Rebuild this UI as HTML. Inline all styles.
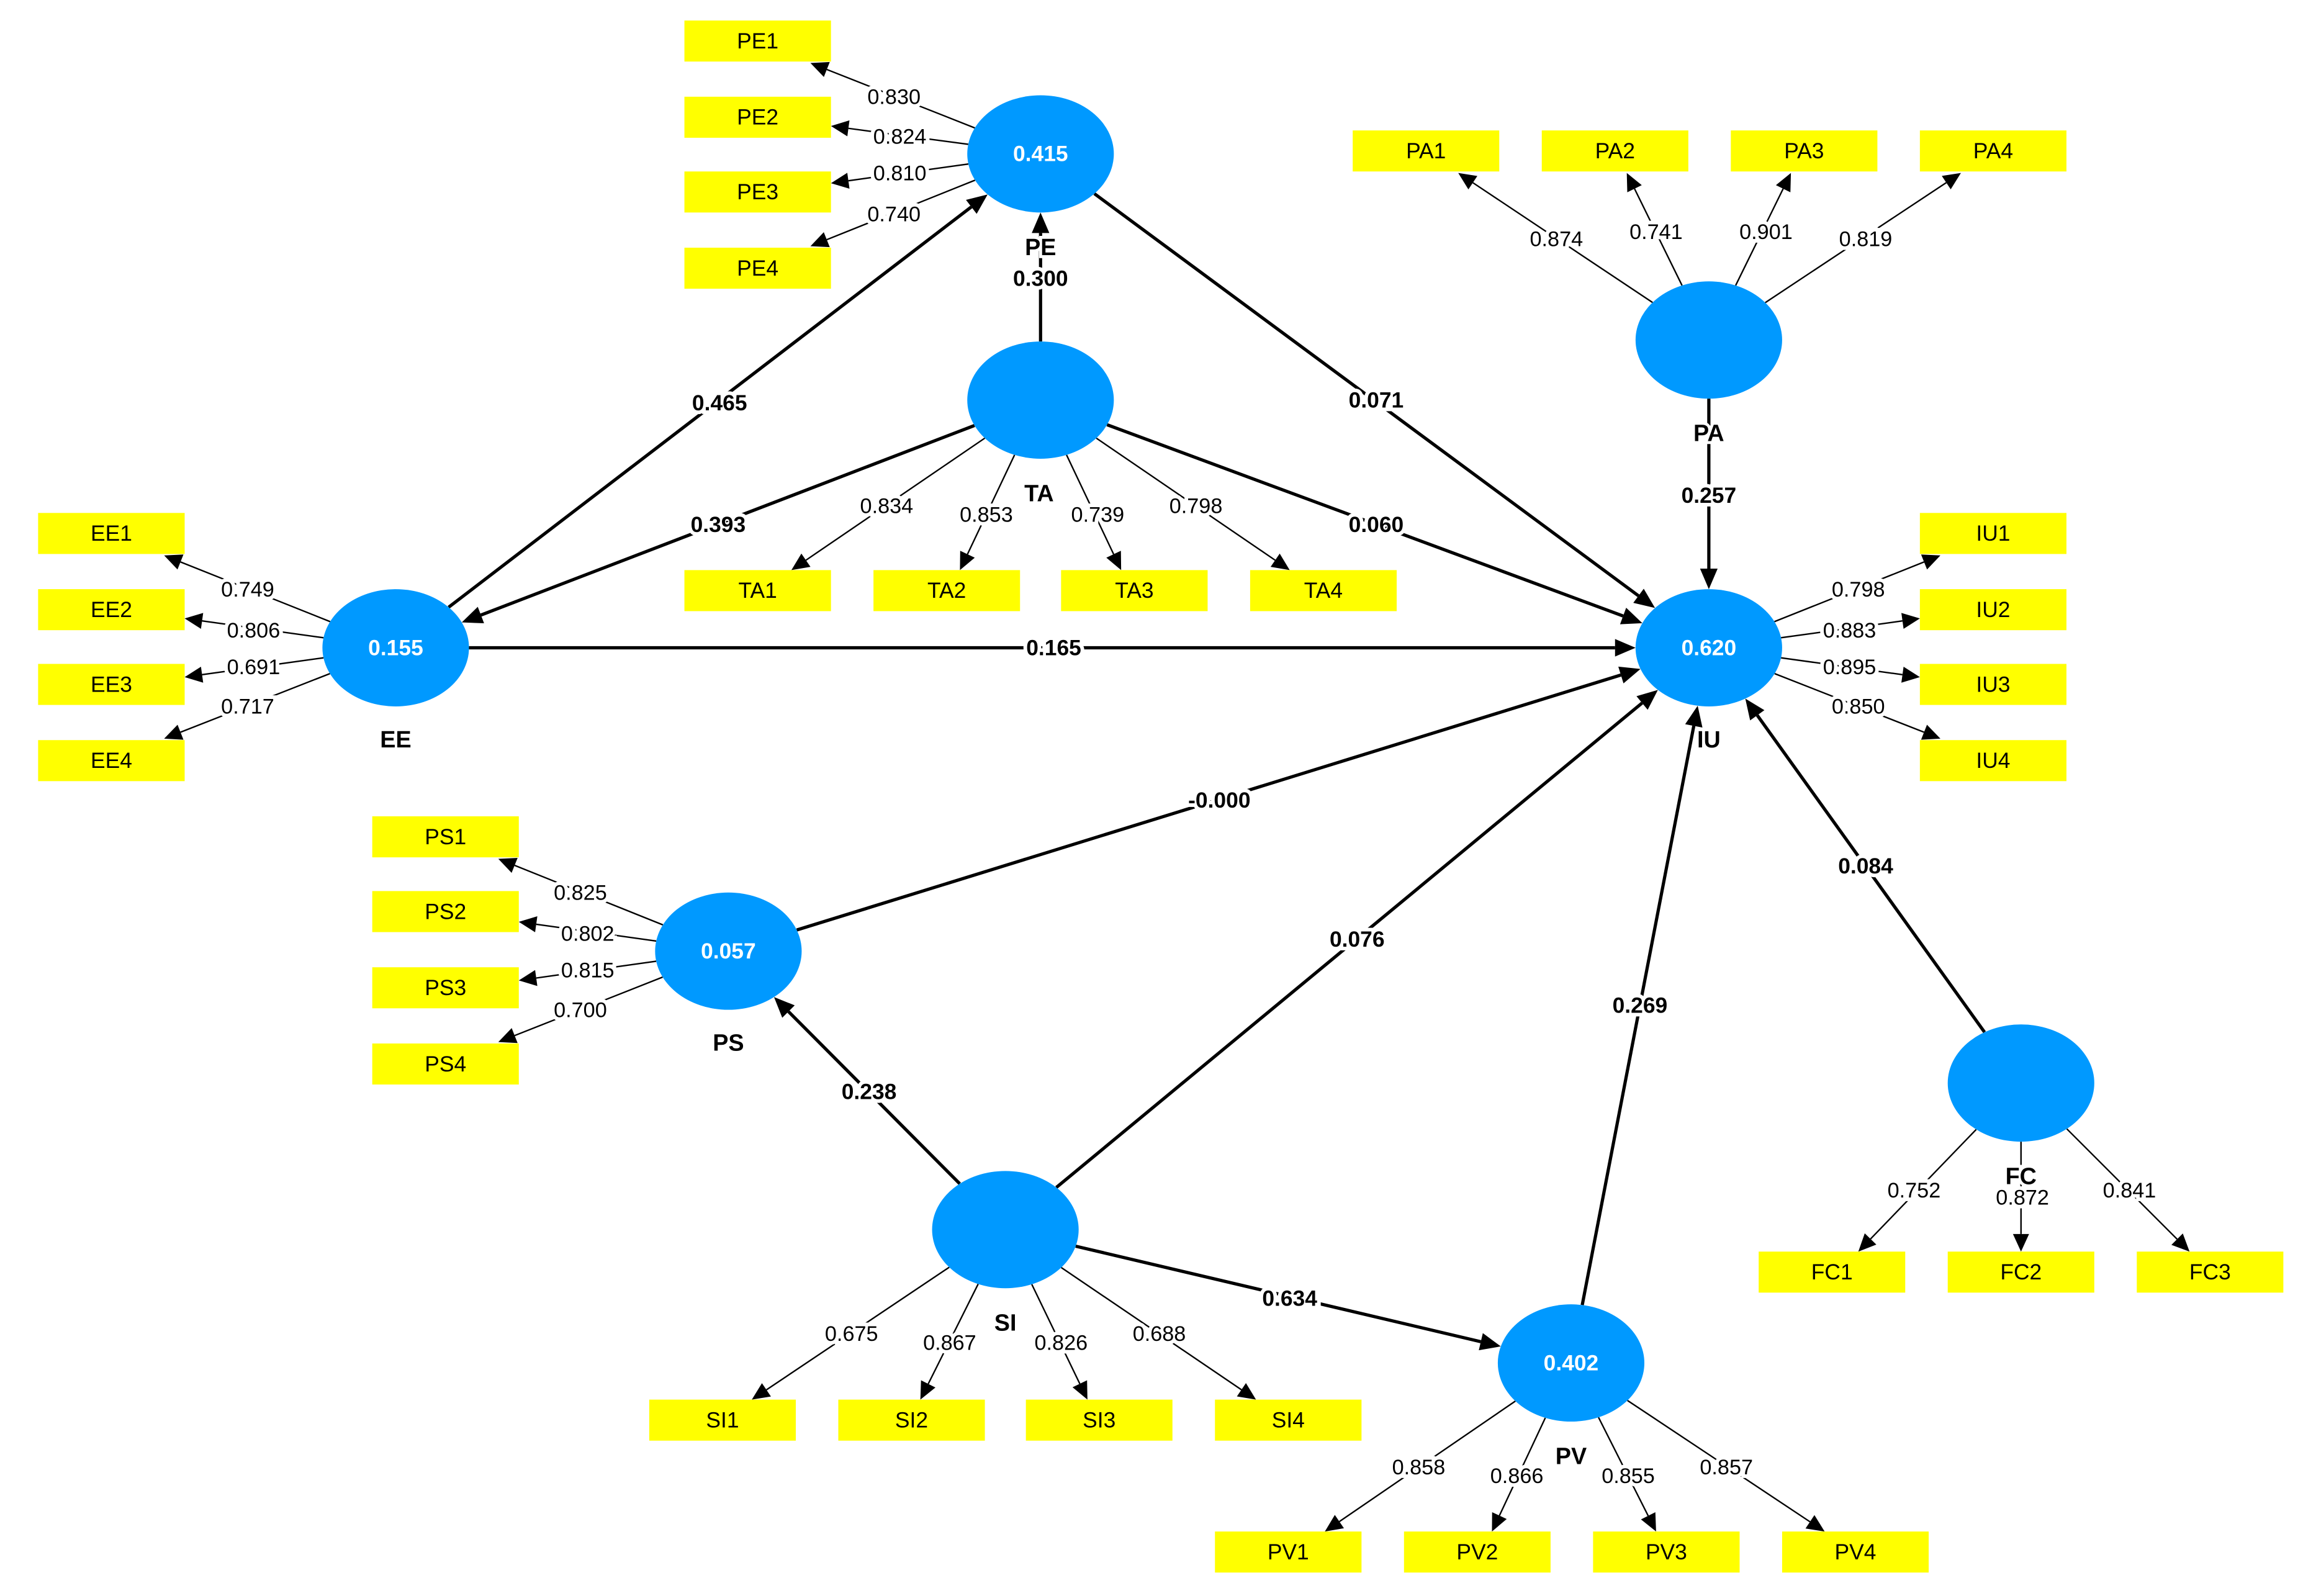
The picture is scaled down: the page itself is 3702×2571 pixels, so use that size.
<!DOCTYPE html>
<html><head><meta charset="utf-8"><style>
html,body{margin:0;padding:0;background:#fff;}
svg{display:block;}
text{font-family:"Liberation Sans",Arial,sans-serif;}
</style></head><body>
<svg id="s" width="3702" height="2571" viewBox="0 0 1568 1089" preserveAspectRatio="none" xmlns="http://www.w3.org/2000/svg">
<rect width="1568" height="1089" fill="#fff"/>
<g id="lines"></g><g id="nodes"></g><g id="labels"></g>
</svg>
<script>
const NS="http://www.w3.org/2000/svg";
const L=document.getElementById('lines'),N=document.getElementById('nodes'),T=document.getElementById('labels');
function el(p,tag,a,txt){const e=document.createElementNS(NS,tag);for(const k in a)e.setAttribute(k,a[k]);if(txt!==undefined)e.textContent=txt;p.appendChild(e);return e;}
const RX=50,RY=40;
const C={PE:[710,105],PA:[1166,232],TA:[710,273],EE:[270,442],IU:[1166,442],PS:[497,649],SI:[686,839],PV:[1072,930],FC:[1379,739]};
const V={PE:'0.415',EE:'0.155',IU:'0.620',PS:'0.057',PV:'0.402'};
const LB={PE:[710,168],PA:[1166,295],TA:[709,336],EE:[270,504],IU:[1166,504],PS:[497,711],SI:[686,902],PV:[1072,993],FC:[1379,802]};
function edgePt(c,tx,ty){const dx=tx-c[0],dy=ty-c[1];const t=1/Math.sqrt(dx*dx/(RX*RX)+dy*dy/(RY*RY));return [c[0]+dx*t,c[1]+dy*t];}
function arrow(x1,y1,x2,y2,w,hl,hw){
 const dx=x2-x1,dy=y2-y1,d=Math.hypot(dx,dy),ux=dx/d,uy=dy/d;
 const bx=x2-ux*hl,by=y2-uy*hl;
 el(L,'line',{x1:x1,y1:y1,x2:bx,y2:by,stroke:'#000','stroke-width':w});
 el(L,'polygon',{points:`${x2},${y2} ${bx-uy*hw/2},${by+ux*hw/2} ${bx+uy*hw/2},${by-ux*hw/2}`,fill:'#000'});
}
function box(x,y,t){el(N,'rect',{x:x,y:y,width:100,height:28,fill:'#ffff00'});el(N,'text',{x:x+50,y:y+19,'text-anchor':'middle','font-size':15,fill:'#000'},t);}
function lab(x,y,t,b){el(T,'text',{x:x,y:y+5,'text-anchor':'middle','font-size':b?15:14.5,'font-weight':b?'bold':'normal',stroke:'#fff','stroke-width':5,'paint-order':'stroke',fill:'#000'},t);}
// boxes + loadings: [construct, boxname, boxX, boxY, targetX, targetY, labelX, labelY, value]
const Ld=[
['PE','PE1',467,14,553,43,610,66,'0.830'],['PE','PE2',467,66,567,86,614,93,'0.824'],['PE','PE3',467,117,567,125,614,118,'0.810'],['PE','PE4',467,169,553,168,610,146,'0.740'],
['PA','PA1',923,89,995,118,1062,163,'0.874'],['PA','PA2',1052,89,1110,118,1130,158,'0.741'],['PA','PA3',1181,89,1222,118,1205,158,'0.901'],['PA','PA4',1310,89,1338,118,1273,163,'0.819'],
['TA','TA1',467,389,540,389,605,345,'0.834'],['TA','TA2',596,389,655,389,673,351,'0.853'],['TA','TA3',724,389,765,389,749,351,'0.739'],['TA','TA4',853,389,880,389,816,345,'0.798'],
['EE','EE1',26,350,112,379,169,402,'0.749'],['EE','EE2',26,402,126,422,173,430,'0.806'],['EE','EE3',26,453,126,462,173,455,'0.691'],['EE','EE4',26,505,112,504,169,482,'0.717'],
['IU','IU1',1310,350,1324,379,1268,402,'0.798'],['IU','IU2',1310,402,1310,422,1262,430,'0.883'],['IU','IU3',1310,453,1310,462,1262,455,'0.895'],['IU','IU4',1310,505,1324,504,1268,482,'0.850'],
['PS','PS1',254,557,340,586,396,609,'0.825'],['PS','PS2',254,608,354,629,401,637,'0.802'],['PS','PS3',254,660,354,669,401,662,'0.815'],['PS','PS4',254,712,340,711,396,689,'0.700'],
['SI','SI1',443,955,513,955,581,910,'0.675'],['SI','SI2',572,955,628,955,648,916,'0.867'],['SI','SI3',700,955,742,955,724,916,'0.826'],['SI','SI4',829,955,857,955,791,910,'0.688'],
['PV','PV1',829,1045,904,1045,968,1001,'0.858'],['PV','PV2',958,1045,1018,1045,1035,1007,'0.866'],['PV','PV3',1087,1045,1130,1045,1111,1007,'0.855'],['PV','PV4',1216,1045,1245,1045,1178,1001,'0.857'],
['FC','FC1',1200,854,1268,854,1306,812,'0.752'],['FC','FC2',1329,854,1379,854,1380,817,'0.872'],['FC','FC3',1458,854,1494,854,1453,812,'0.841']];
for(const l of Ld){const c=C[l[0]];const s=edgePt(c,l[4],l[5]);arrow(s[0],s[1],l[4],l[5],1,12,11);box(l[2],l[3],l[1]);lab(l[6],l[7],l[8],false);}
// paths
const P=[['EE','PE',491,275,'0.465'],['TA','PE',710,190,'0.300'],['TA','EE',490,358,'0.393'],['TA','IU',939,358,'0.060'],['PE','IU',939,273,'0.071'],['EE','IU',719,442,'0.165'],['PA','IU',1166,338,'0.257'],['PS','IU',832,546,'-0.000'],['SI','PS',593,745,'0.238'],['SI','IU',926,641,'0.076'],['SI','PV',880,886,'0.634'],['PV','IU',1119,686,'0.269'],['FC','IU',1273,591,'0.084']];
for(const p of P){const a=C[p[0]],b=C[p[1]];const s=edgePt(a,b[0],b[1]),e=edgePt(b,a[0],a[1]);arrow(s[0],s[1],e[0],e[1],2.2,14,12);lab(p[2],p[3],p[4],true);}
for(const k in C){const c=C[k];el(N,'ellipse',{cx:c[0],cy:c[1],rx:RX,ry:RY,fill:'#0099ff'});
 if(V[k])el(N,'text',{x:c[0],y:c[1]+5,'text-anchor':'middle','font-size':15,'font-weight':'bold',fill:'#fff'},V[k]);
 const lb=LB[k];el(T,'text',{x:lb[0],y:lb[1]+6,'text-anchor':'middle','font-size':16,'font-weight':'bold',stroke:'#fff','stroke-width':4,'paint-order':'stroke',fill:'#000'},k);}
</script>
</body></html>
